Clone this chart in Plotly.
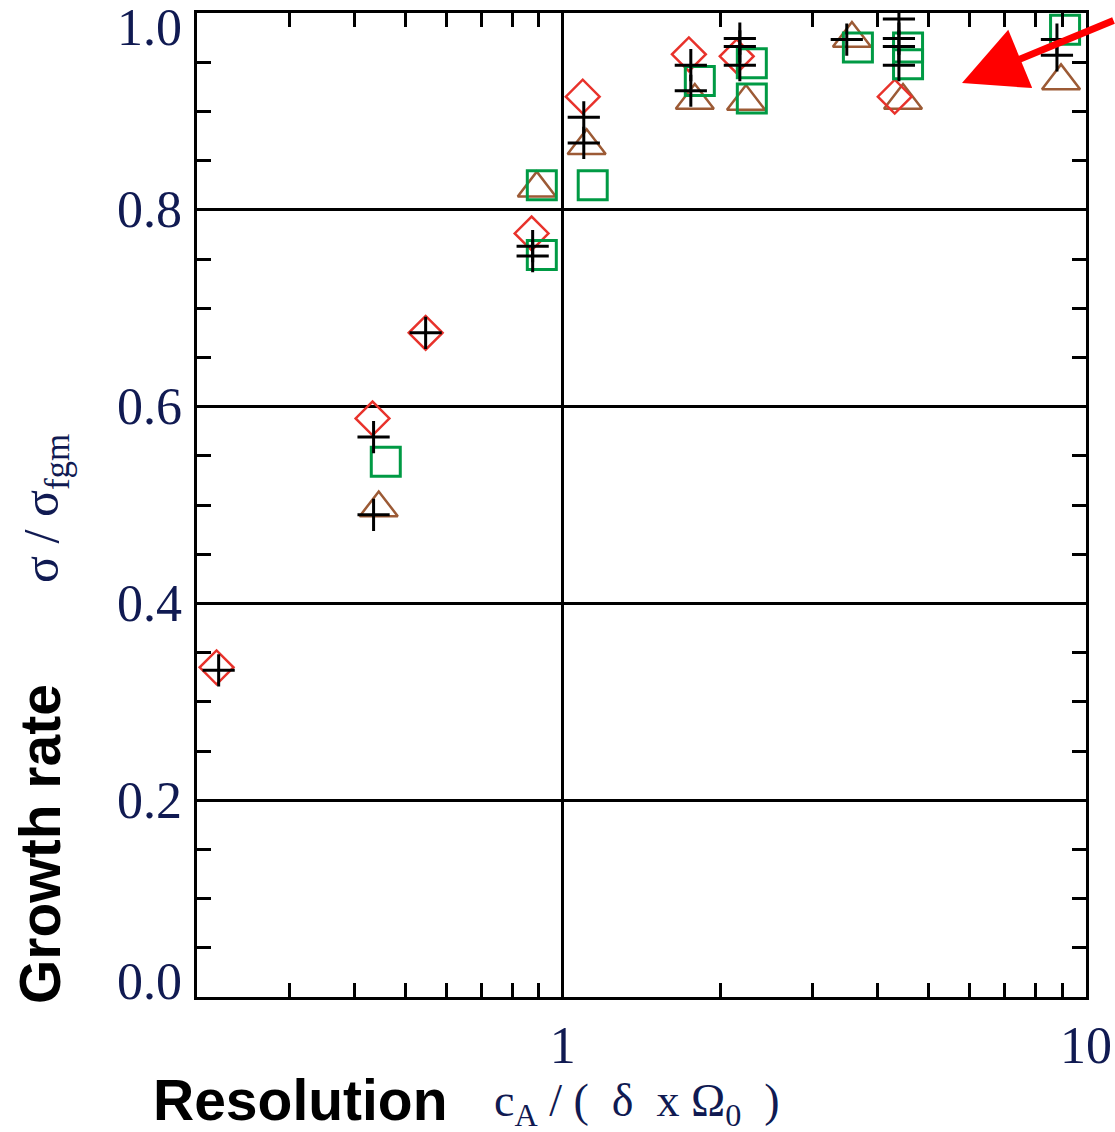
import numpy as np
import plotly.graph_objects as go

# ---------------- data ----------------
diamond_x = [0.218, 0.433, 0.547, 0.872, 1.092, 1.742, 2.15, 4.31]
diamond_y = [0.335, 0.588, 0.675, 0.776, 0.915, 0.958, 0.956, 0.915]

cross_x = [0.220, 0.435, 0.435, 0.547, 0.876, 0.876, 1.097, 1.097, 1.757, 1.757,
           2.18, 2.18, 2.18, 3.49, 4.39, 4.39, 4.39, 4.39, 8.80, 8.80]
cross_y = [0.332, 0.569, 0.490, 0.675, 0.763, 0.753, 0.894, 0.868, 0.947, 0.921,
           0.974, 0.966, 0.947, 0.973, 0.994, 0.974, 0.966, 0.947, 0.973, 0.957]

square_x = [0.459, 0.912, 0.912, 1.141, 1.828, 2.298, 2.298, 3.665, 4.57, 4.57, 9.12]
square_y = [0.544, 0.825, 0.754, 0.825, 0.931, 0.949, 0.913, 0.965, 0.965, 0.948, 0.983]

triangle_x = [0.445, 0.892, 1.111, 1.788, 2.24, 3.57, 4.47, 8.96]
triangle_y = [0.497, 0.822, 0.865, 0.911, 0.910, 0.974, 0.911, 0.931]

x_major_ticks = [1, 10]
x_major_text = ["1", "10"]
x_minor_ticks = [0.3, 0.4, 0.5, 0.6, 0.7, 0.8, 0.9, 2, 3, 4, 5, 6, 7, 8, 9]
y_major_ticks = [0.0, 0.2, 0.4, 0.6, 0.8, 1.0]
y_major_text = ["0.0", "0.2", "0.4", "0.6", "0.8", "1.0"]

# ---------------- styles ----------------
NAVY = "#101a52"
SERIF = "Liberation Serif, Times New Roman, serif"
SANS = "Liberation Sans, Arial, sans-serif"
NB = "\u00a0"

fig = go.Figure()

fig.add_trace(go.Scatter(
    x=triangle_x, y=triangle_y, mode="markers",
    marker=dict(symbol="triangle-up-open", size=33,
                line=dict(color="#9c5a35", width=2.5), color="#9c5a35"),
    showlegend=False))
fig.add_trace(go.Scatter(
    x=diamond_x, y=diamond_y, mode="markers",
    marker=dict(symbol="diamond-open", size=26,
                line=dict(color="#e8322b", width=2.5), color="#e8322b"),
    showlegend=False))
fig.add_trace(go.Scatter(
    x=square_x, y=square_y, mode="markers",
    marker=dict(symbol="square-open", size=29,
                line=dict(color="#009a44", width=3), color="#009a44"),
    showlegend=False))
fig.add_trace(go.Scatter(
    x=cross_x, y=cross_y, mode="markers",
    marker=dict(symbol="cross-thin-open", size=23,
                line=dict(color="black", width=3), color="black"),
    showlegend=False))

fig.update_xaxes(
    type="log", range=[np.log10(0.2), 1], automargin=False,
    showline=True, linewidth=3, linecolor="black", mirror="allticks",
    ticks="inside", ticklen=14, tickwidth=3, tickcolor="black",
    tickvals=x_major_ticks, ticktext=x_major_text,
    tickfont=dict(family=SERIF, size=52, color=NAVY),
    ticklabelstandoff=1,
    showgrid=True, gridcolor="black", gridwidth=2.5, zeroline=False,
    minor=dict(tickvals=x_minor_ticks, ticks="inside", ticklen=14,
               tickwidth=3, tickcolor="black", showgrid=False),
)
fig.update_yaxes(
    range=[0, 1], automargin=False,
    showline=True, linewidth=3, linecolor="black", mirror="allticks",
    ticks="inside", ticklen=14, tickwidth=3, tickcolor="black",
    tickvals=y_major_ticks, showticklabels=False,
    showgrid=True, gridcolor="black", gridwidth=2.5, zeroline=False,
    minor=dict(tick0=0, dtick=0.05, ticks="inside", ticklen=14,
               tickwidth=3, tickcolor="black", showgrid=False),
)

annotations = []
# y tick labels (end labels nudged inward as in the reference)
for v, t in zip(y_major_ticks, y_major_text):
    shift = 0
    if v == y_major_ticks[0]:
        shift = 16
    elif v == y_major_ticks[-1]:
        shift = -14
    annotations.append(dict(
        x=0, xref="paper", y=v, yref="y", text=t, showarrow=False,
        xanchor="right", yanchor="middle", xshift=-13, yshift=shift,
        font=dict(family=SERIF, size=52, color=NAVY)))

# axis titles
annotations.append(dict(
    x=-0.1766, y=0.1555, xref="paper", yref="paper", text="Growth rate",
    textangle=-90, showarrow=False, xanchor="center", yanchor="middle",
    font=dict(family=SANS, size=57, color="black", weight="bold")))
annotations.append(dict(
    x=-0.171, y=0.497, xref="paper", yref="paper",
    text="σ / σ<sub>fgm</sub>",
    textangle=-90, showarrow=False, xanchor="center", yanchor="middle",
    font=dict(family=SERIF, size=50, color=NAVY)))
annotations.append(dict(
    x=0.1159, y=-0.1047, xref="paper", yref="paper", text="Resolution",
    showarrow=False, xanchor="center", yanchor="middle",
    font=dict(family=SANS, size=57, color="black", weight="bold")))
annotations.append(dict(
    x=0.495, y=-0.1085, xref="paper", yref="paper",
    text=("c<sub>A</sub>" + NB + "/" + NB + "(" + NB * 2 + "δ" + NB * 2 + "x"
          + NB + "Ω<sub>0</sub>" + NB * 2 + ")"),
    showarrow=False, xanchor="center", yanchor="middle",
    font=dict(family=SERIF, size=46, color=NAVY)))

# red arrow
annotations.append(dict(
    x=0.8605, y=0.9289, xref="paper", yref="paper", text="",
    showarrow=True, ax=163, ay=-63, arrowhead=2, arrowsize=1.8,
    arrowwidth=7, arrowcolor="#ff0000"))

fig.update_layout(
    width=1115, height=1132,
    margin=dict(l=197, r=29, t=13, b=135),
    paper_bgcolor="white", plot_bgcolor="white",
    annotations=annotations,
)

fig.write_html("out.html")
